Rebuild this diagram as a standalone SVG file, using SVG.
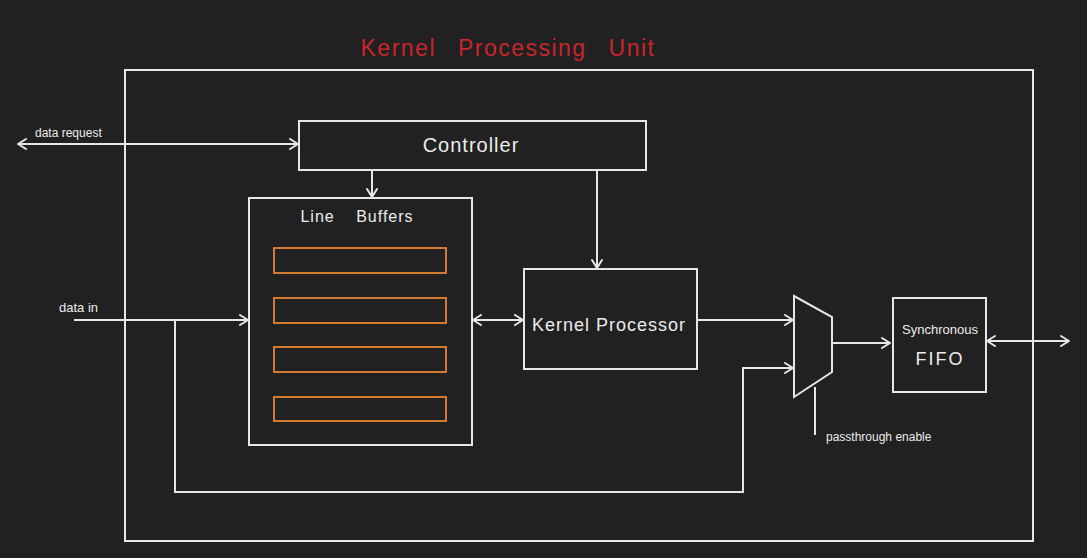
<svg xmlns="http://www.w3.org/2000/svg" width="1087" height="558" viewBox="0 0 1087 558">
<defs>
<marker id="ah" markerWidth="12" markerHeight="12" refX="10" refY="6" orient="auto-start-reverse" markerUnits="userSpaceOnUse">
<path d="M2,1 L10,6 L2,11" fill="none" stroke="#e6e6e6" stroke-width="2" stroke-linecap="round" stroke-linejoin="round"/>
</marker>
<style>
.box{fill:none;stroke:#e6e6e6;stroke-width:2}
.buf{fill:none;stroke:#d47a30;stroke-width:2}
.ln{fill:none;stroke:#e6e6e6;stroke-width:2}
.t{font-family:"Liberation Sans",Arial,sans-serif;fill:#ececec;font-weight:300}
.title{font-family:"Liberation Sans",Arial,sans-serif;fill:#c9252d;font-size:23px;letter-spacing:1.5px;word-spacing:14px}
</style>
</defs>
<rect width="1087" height="558" fill="#212121"/>
<text class="title" x="508" y="56" text-anchor="middle">Kernel Processing Unit</text>
<g id="kpu"><rect class="box" x="125" y="70" width="908" height="471"/></g>
<g id="controller"><rect class="box" x="299" y="121" width="347" height="49"/><text class="t" x="471" y="152" font-size="20" text-anchor="middle" letter-spacing="1">Controller</text></g>
<g id="linebuffers"><rect class="box" x="249" y="198" width="223" height="247"/><text class="t" x="357" y="222" font-size="16" text-anchor="middle" letter-spacing="1" word-spacing="16">Line Buffers</text>
<rect class="buf" x="274" y="248" width="172" height="25"/>
<rect class="buf" x="274" y="298" width="172" height="25"/>
<rect class="buf" x="274" y="347" width="172" height="25"/>
<rect class="buf" x="274" y="397" width="172" height="24"/></g>
<g id="kernelprocessor"><rect class="box" x="524" y="269" width="173" height="100"/><text class="t" x="609" y="331" font-size="18" text-anchor="middle" letter-spacing="1">Kernel Processor</text></g>
<g id="mux"><polygon class="box" points="794,296 832,317 832,372 794,397"/></g>
<g id="fifo"><rect class="box" x="893" y="298" width="93" height="94"/><text class="t" x="940" y="334" font-size="13" text-anchor="middle">Synchronous</text><text class="t" x="940" y="365" font-size="18" text-anchor="middle" letter-spacing="2">FIFO</text></g>
<g id="connectors">
<line class="ln" x1="18" y1="144" x2="298" y2="144" marker-start="url(#ah)" marker-end="url(#ah)"/>
<line class="ln" x1="372" y1="170" x2="372" y2="197" marker-end="url(#ah)"/>
<line class="ln" x1="597" y1="170" x2="597" y2="268" marker-end="url(#ah)"/>
<line class="ln" x1="74" y1="320" x2="248" y2="320" marker-end="url(#ah)"/>
<line class="ln" x1="473" y1="320" x2="523" y2="320" marker-start="url(#ah)" marker-end="url(#ah)"/>
<polyline class="ln" points="175,320 175,492 743,492 743,368 793,368" marker-end="url(#ah)"/>
<line class="ln" x1="697" y1="320" x2="793" y2="320" marker-end="url(#ah)"/>
<line class="ln" x1="832" y1="343" x2="890" y2="343" marker-end="url(#ah)"/>
<line class="ln" x1="987" y1="341" x2="1069" y2="341" marker-start="url(#ah)" marker-end="url(#ah)"/>
<line class="ln" x1="815" y1="387" x2="815" y2="435"/>
</g>
<text class="t" x="35" y="137" font-size="12">data request</text>
<text class="t" x="59" y="312" font-size="13">data in</text>
<text class="t" x="826" y="441" font-size="12">passthrough enable</text>
</svg>
